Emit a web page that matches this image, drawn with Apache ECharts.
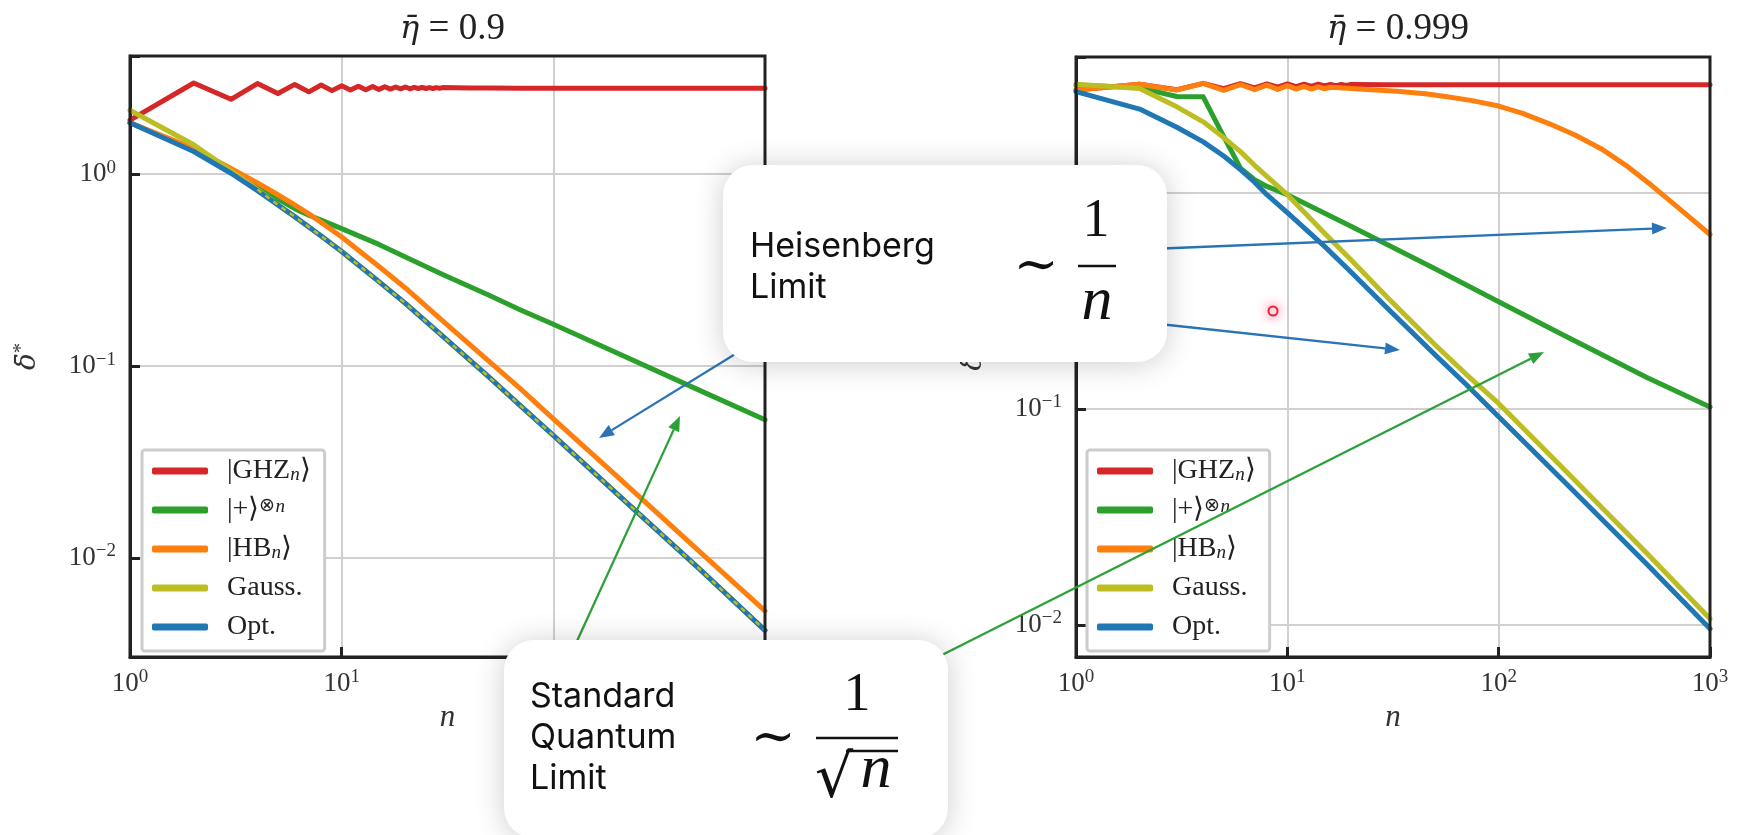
<!DOCTYPE html>
<html>
<head>
<meta charset="utf-8">
<script src="https://cdn.jsdelivr.net/npm/echarts@6/dist/echarts.min.js"></script>
<style>
  html, body { margin: 0; padding: 0; background: #ffffff; }
  #chart { width: 1739px; height: 835px; }
</style>
</head>
<body>
<div id="chart"></div>
<script>
// ---------- data: left panel (eta = 0.9) ----------
const nGhzLeft = [1,2,3,4,5,6,7,8,9,10,11,12,13,14,15,16,17,18,19,20,21,22,23,24,25,26,27,28,29,30,40,50,70,100,200,500,1000];
const ghzLeft  = [1.91,2.98,2.45,2.96,2.63,2.93,2.68,2.91,2.72,2.88,2.74,2.87,2.75,2.86,2.76,2.85,2.77,2.84,2.78,2.84,2.78,2.83,2.79,2.83,2.79,2.82,2.79,2.82,2.80,2.82,2.81,2.81,2.80,2.80,2.80,2.80,2.80];

const nSmooth   = [1,2,3,4,5,6,7,8,10,15,20,30,50,70,100,200,500,1000];
const plusLeft  = [1.85,1.33,1.04,0.86,0.74,0.66,0.61,0.575,0.52,0.43,0.37,0.30,0.233,0.196,0.165,0.117,0.074,0.0525];
const hbLeft    = [1.85,1.36,1.07,0.90,0.78,0.69,0.62,0.56,0.47,0.33,0.255,0.172,0.105,0.076,0.053,0.0266,0.0106,0.0053];
const gaussLeft = [2.15,1.42,1.04,0.83,0.69,0.60,0.53,0.475,0.395,0.275,0.212,0.143,0.087,0.062,0.0435,0.0216,0.0086,0.0042];
const optLeft   = [1.85,1.31,1.01,0.82,0.69,0.60,0.53,0.475,0.395,0.275,0.212,0.143,0.087,0.062,0.0435,0.0216,0.0086,0.0042];

// ---------- data: right panel (eta = 0.999) ----------
const nGhzRight = [1,2,3,4,5,6,7,8,9,10,11,12,13,14,15,16,17,18,19,20,30,50,100,200,500,1000];
const ghzRight  = [2.99,3.18,3.00,3.21,3.03,3.20,3.06,3.19,3.08,3.19,3.10,3.18,3.11,3.18,3.12,3.17,3.13,3.17,3.14,3.17,3.16,3.16,3.16,3.16,3.16,3.16];
const nHbRight  = [1,2,3,4,5,6,7,8,9,10,11,12,13,14,15,16,20,25,33,45,57,75,100,130,175,230,305,400,530,700,850,1000];
const hbRight   = [2.99,3.18,2.99,3.21,2.98,3.17,3.00,3.15,3.01,3.13,3.02,3.11,3.02,3.09,3.03,3.08,3.04,3.00,2.95,2.87,2.78,2.67,2.52,2.33,2.08,1.85,1.60,1.34,1.08,0.86,0.733,0.641];
const nPlusRight = [1,2,3,4,5,6,7,8,10,20,50,100,200,500,1000];
const plusRight  = [3.15,3.06,2.79,2.78,1.82,1.30,1.15,1.07,0.98,0.70,0.445,0.313,0.221,0.14,0.102];
const gaussRight = [3.18,3.04,2.50,2.13,1.80,1.55,1.34,1.19,0.98,0.65,0.49,0.325,0.198,0.145,0.106,0.0535,0.0216,0.0107];
const optRight   = [2.94,2.44,2.01,1.72,1.48,1.28,1.12,0.98,0.81,0.565,0.43,0.29,0.178,0.13,0.092,0.047,0.0192,0.0096];

// ---------- axis extents and labels ----------
const xRange = [1, 1000];
const yRangeLeft = [0.00305, 4.12];
const yRangeRight = [0.00711, 4.25];
const titles = ['0.9', '0.999'];
const seriesNames = ['GHZ', 'plus', 'HB', 'Gauss.', 'Opt.'];
const legendLabels = {
  'GHZ': '|GHZ{sub|n}\u27E9',
  'plus': '|+\u27E9{sup|\u2297}{supi|n}',
  'HB': '|HB{sub|n}\u27E9',
  'Gauss.': 'Gauss.',
  'Opt.': 'Opt.'
};
const colors = { 'GHZ': '#d62728', 'plus': '#2ca02c', 'HB': '#ff7f0e', 'Gauss.': '#bcbd22', 'Opt.': '#1f77b4' };

const SERIF = 'Liberation Serif';
const MARKED = 'DejaVu Serif';   // places combining bars over the Greek letters
const SANS = 'Inter';
const INK = '#222222';

function pairs(ns, vs) { return ns.map((n, i) => [n, vs[i]]); }

// label only the integer powers of ten, as 10^k
function powLabel(v) {
  const e = Math.log10(v);
  const k = Math.round(e);
  if (Math.abs(e - k) > 1e-6) return '';
  return '{b|10}{s|' + (k < 0 ? '\u2212' + (-k) : String(k)) + '}';
}
const tickRich = {
  b: { fontFamily: SERIF, fontSize: 27, color: '#333', lineHeight: 32 },
  s: { fontFamily: SERIF, fontSize: 19, color: '#333', lineHeight: 17, verticalAlign: 'top' }
};

function xAxisCfg(gridIndex) {
  return {
    type: 'log', logBase: 10, gridIndex: gridIndex, min: xRange[0], max: xRange[1],
    name: 'n', nameLocation: 'middle', nameGap: 37,
    nameTextStyle: { fontFamily: SERIF, fontStyle: 'italic', fontSize: 31, color: '#333' },
    axisLine: { show: true, onZero: false, lineStyle: { color: INK, width: 3 } },
    axisTick: { show: true, inside: true, length: 10, lineStyle: { color: INK, width: 3 } },
    minorTick: { show: false },
    axisLabel: { formatter: powLabel, margin: 11, rich: tickRich, showMinLabel: true, showMaxLabel: true },
    splitLine: { show: true, lineStyle: { color: '#d0d0d0', width: 2 } }
  };
}
function yAxisCfg(gridIndex, range) {
  return {
    type: 'log', logBase: 10, gridIndex: gridIndex, min: range[0], max: range[1],
    name: '{d|\u03B4\u0304}{s|*}', nameLocation: 'middle', nameRotate: 90, nameGap: 86,
    nameTextStyle: {
      rich: {
        d: { fontFamily: MARKED, fontStyle: 'italic', fontSize: 28, color: '#333', lineHeight: 32 },
        s: { fontFamily: SERIF, fontSize: 20, color: '#333', lineHeight: 16, verticalAlign: 'top' }
      }
    },
    axisLine: { show: true, onZero: false, lineStyle: { color: INK, width: 3 } },
    axisTick: { show: true, inside: true, length: 10, lineStyle: { color: INK, width: 3 } },
    minorTick: { show: false },
    axisLabel: { formatter: powLabel, margin: 14, rich: tickRich },
    splitLine: { show: true, lineStyle: { color: '#d0d0d0', width: 2 } }
  };
}

function line(name, gi, ns, vs, extra) {
  const s = {
    type: 'line', name: name, xAxisIndex: gi, yAxisIndex: gi,
    data: pairs(ns, vs), showSymbol: false, symbol: 'none', silent: true,
    color: colors[name],
    lineStyle: { color: colors[name], width: 5, cap: 'round', join: 'round' }
  };
  return Object.assign(s, extra || {});
}

const series = [
  line('GHZ', 0, nGhzLeft, ghzLeft),
  line('plus', 0, nSmooth, plusLeft),
  line('HB', 0, nSmooth, hbLeft),
  line('Gauss.', 0, nSmooth, gaussLeft),
  line('Opt.', 0, nSmooth, optLeft),
  // Gauss. runs on top of Opt. here: show it as dashes inside the blue stroke
  line('Gauss.', 0, nSmooth.slice(3), gaussLeft.slice(3),
       { lineStyle: { color: colors['Gauss.'], width: 2.5, type: [5, 5], cap: 'butt' } }),
  line('GHZ', 1, nGhzRight, ghzRight),
  line('plus', 1, nPlusRight, plusRight),
  line('HB', 1, nHbRight, hbRight),
  line('Gauss.', 1, nSmooth, gaussRight),
  line('Opt.', 1, nSmooth, optRight)
];

function legendCfg(left) {
  return {
    orient: 'vertical', left: left, top: 450,
    data: seriesNames, selectedMode: false,
    icon: 'roundRect', itemWidth: 56, itemHeight: 7, itemGap: 11,
    padding: [7, 14, 10, 10],
    backgroundColor: '#ffffff', borderColor: '#cccccc', borderWidth: 3, borderRadius: 3,
    formatter: name => '{g| }' + legendLabels[name],
    textStyle: {
      fontFamily: SERIF, fontSize: 28, color: '#222', lineHeight: 26,
      rich: {
        g: { width: 14, fontSize: 10, lineHeight: 26 },
        sub: { fontFamily: SERIF, fontStyle: 'italic', fontSize: 19, color: '#222', lineHeight: 17, verticalAlign: 'bottom' },
        sup: { fontFamily: SERIF, fontSize: 19, color: '#222', lineHeight: 15, verticalAlign: 'top' },
        supi: { fontFamily: SERIF, fontStyle: 'italic', fontSize: 19, color: '#222', lineHeight: 15, verticalAlign: 'top' }
      }
    },
    z: 20
  };
}

function titleCfg(text, cx) {
  return {
    text: '{e|\u03B7\u0304}{t| = ' + text + '}', left: cx, top: 6, textAlign: 'center',
    textStyle: {
      fontFamily: SERIF, fontSize: 35, fontWeight: 'normal', color: '#222',
      rich: {
        e: { fontFamily: MARKED, fontStyle: 'italic', fontSize: 32, color: '#222' },
        t: { fontFamily: SERIF, fontSize: 37, color: '#222' }
      }
    }
  };
}

// ---------- annotation call-outs ----------
function arrow(x1, y1, x2, y2, color) {
  const L = 15, W = 6;
  const dx = x2 - x1, dy = y2 - y1, len = Math.hypot(dx, dy);
  const ux = dx / len, uy = dy / len;
  const bx = x2 - ux * L, by = y2 - uy * L;
  return [
    { type: 'line', z: 90, silent: true, shape: { x1: x1, y1: y1, x2: bx, y2: by },
      style: { stroke: color, lineWidth: 2.3 } },
    { type: 'polygon', z: 90, silent: true,
      shape: { points: [[x2, y2], [bx - uy * W, by + ux * W], [bx + uy * W, by - ux * W]] },
      style: { fill: color } }
  ];
}
const ARROW_BLUE = '#2a74b5';
const ARROW_GREEN = '#2ea03a';

function card(x, y, w, h) {
  return { type: 'rect', z: 100, silent: true, shape: { x: x, y: y, width: w, height: h, r: 30 },
    style: { fill: '#ffffff', shadowBlur: 30, shadowColor: 'rgba(0,0,0,0.20)', shadowOffsetX: 0, shadowOffsetY: 2 } };
}
function words(text, x, y, size) {
  return { type: 'text', z: 101, silent: true, x: x, y: y,
    style: { text: text, fontFamily: SANS, fontSize: size, fill: '#111', align: 'left', verticalAlign: 'middle' } };
}
function mathText(text, x, y, size, italic, family) {
  return { type: 'text', z: 101, silent: true, x: x, y: y,
    style: { text: text, fontFamily: family || SERIF, fontStyle: italic ? 'italic' : 'normal', fontSize: size,
      fill: '#111', align: 'center', verticalAlign: 'middle' } };
}
function rule(x1, y1, x2, y2) {
  return { type: 'line', z: 101, silent: true, shape: { x1: x1, y1: y1, x2: x2, y2: y2 },
    style: { stroke: '#111', lineWidth: 2.4 } };
}

const graphics = [].concat(
  arrow(758, 340, 599, 438, ARROW_BLUE),
  arrow(1150, 249, 1667, 228, ARROW_BLUE),
  arrow(1150, 323, 1400, 350, ARROW_BLUE),
  arrow(572, 652, 680, 416, ARROW_GREEN),
  arrow(930, 661, 1544, 352, ARROW_GREEN),
  [
    // pointer dot
    { type: 'circle', z: 95, silent: true, shape: { cx: 1273, cy: 311, r: 4.5 },
      style: { fill: '#fff0f2', stroke: '#e8203a', lineWidth: 2, shadowBlur: 12, shadowColor: 'rgba(255,40,80,0.55)' } },

    // Heisenberg limit card
    card(723, 165, 444, 197),
    words('Heisenberg', 750, 247, 34),
    words('Limit', 750, 288, 34),
    mathText('\u223C', 1036, 268, 54, false, MARKED),
    mathText('1', 1096, 222, 54, false),
    rule(1078, 266, 1116, 266),
    mathText('n', 1097, 303, 62, true),

    // standard quantum limit card
    card(504, 640, 444, 198),
    words('Standard', 530, 697, 34),
    words('Quantum', 530, 738, 34),
    words('Limit', 530, 779, 34),
    mathText('\u223C', 773, 740, 54, false, MARKED),
    mathText('1', 857, 696, 54, false),
    rule(816, 738, 898, 738),
    mathText('\u221A', 834, 781, 60, false, MARKED),
    rule(846, 751, 898, 751),
    mathText('n', 876, 771, 62, true)
  ]
);

const option = {
  backgroundColor: '#ffffff',
  animation: false,
  title: [titleCfg(titles[0], 447.5), titleCfg(titles[1], 1393)],
  legend: [legendCfg(142), legendCfg(1087)],
  grid: [
    { left: 130, top: 56, width: 635, height: 601, show: true, borderColor: INK, borderWidth: 3, backgroundColor: 'transparent', z: 5 },
    { left: 1076, top: 57, width: 634, height: 600, show: true, borderColor: INK, borderWidth: 3, backgroundColor: 'transparent', z: 5 }
  ],
  xAxis: [xAxisCfg(0), xAxisCfg(1)],
  yAxis: [yAxisCfg(0, yRangeLeft), yAxisCfg(1, yRangeRight)],
  series: series,
  graphic: { elements: graphics }
};

const chart = echarts.init(document.getElementById('chart'), null, { renderer: 'canvas' });
chart.setOption(option);
</script>
</body>
</html>
